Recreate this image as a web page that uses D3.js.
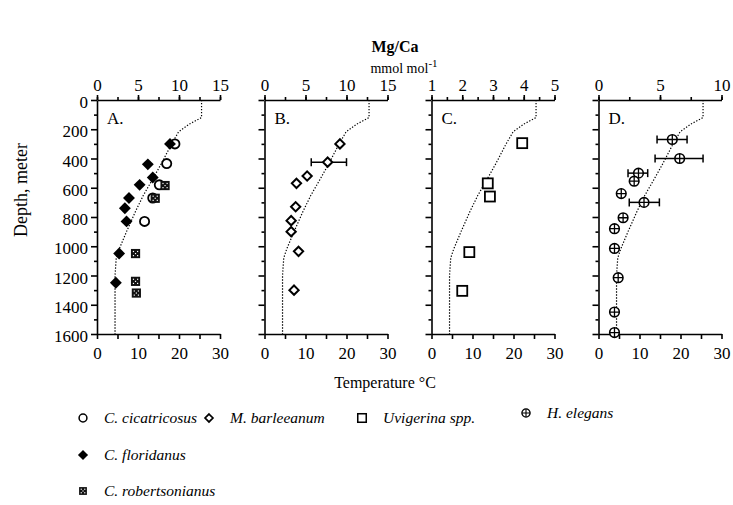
<!DOCTYPE html>
<html>
<head>
<meta charset="utf-8">
<script src="https://cdn.jsdelivr.net/npm/d3@7"></script>
<style>
  body { margin: 0; background: #fff; }
  svg, svg text { font-family: "Liberation Serif", "Times New Roman", "DejaVu Serif", serif; }
</style>
</head>
<body>
<svg width="733" height="505"></svg>
<script>

// temperature profile (dotted line), same in every panel
const profileDepth = [0, 120, 165, 218, 300, 435, 540, 652, 767, 900, 1020, 1080, 1200, 1600];
const profileTemp = [25.5, 25.5, 22.5, 19.9, 18.2, 15.7, 13.6, 11.3, 9.3, 7.2, 5.4, 4.7, 4.4, 4.4];

// [Mg/Ca, depth]
const cicatricosus = [[9.5, 300], [8.5, 435], [7.6, 580], [6.8, 670], [5.8, 830]];
const floridanus = [[8.9, 300], [6.2, 440], [6.8, 530], [5.2, 580], [3.9, 670], [3.4, 740], [3.6, 830], [2.7, 1050], [2.3, 1250]];
const robertsonianus = [[8.3, 585], [7.1, 672], [4.7, 1050], [4.7, 1240], [4.8, 1320]];
const barleeanum = [[9.2, 300], [7.7, 425], [5.2, 520], [3.9, 570], [3.8, 730], [3.25, 825], [3.25, 900], [4.15, 1035], [3.6, 1300]];
const uvigerina = [[3.95, 295], [2.83, 570], [2.9, 660], [2.23, 1040], [2.0, 1305]];
const elegans = [[6.0, 270], [6.6, 400], [3.25, 500], [2.9, 555], [1.85, 640], [3.7, 700], [2.0, 805], [1.3, 880], [1.3, 1015], [1.6, 1215], [1.3, 1450], [1.3, 1590]];

// error bars [Mg/Ca low, Mg/Ca high, depth]
const barleeanumErr = [[5.7, 10.0, 425]];
const elegansErr = [[4.76, 7.2, 270], [4.6, 8.5, 400], [2.4, 4.0, 500], [2.5, 4.95, 700]];

const depthTicks = [0, 200, 400, 600, 800, 1000, 1200, 1400, 1600];
const tempTicks = [0, 10, 20, 30];

const svg = d3.select('svg');
const yTop = 100, yBottom = 334, panelW = 123;
const serif = '"Liberation Serif", "Times New Roman", serif';

const y = d3.scaleLinear().domain([0, 1600]).range([yTop, yBottom]);

const panels = [
    {label: 'A.', x0: 97, mg: [0, 15], ticks: [0, 5, 10, 15], minor: 2.5, left: true,
        sets: [['circle', cicatricosus], ['crossed', robertsonianus], ['filledDiamond', floridanus]], err: []},
    {label: 'B.', x0: 264.5, mg: [0, 15], ticks: [0, 5, 10, 15], minor: 2.5,
        sets: [['diamond', barleeanum]], err: barleeanumErr},
    {label: 'C.', x0: 431.5, mg: [1, 5], ticks: [1, 2, 3, 4, 5], minor: 0.5,
        sets: [['square', uvigerina]], err: []},
    {label: 'D.', x0: 598.5, mg: [0, 10], ticks: [0, 5, 10], minor: 2.5,
        sets: [['plus', elegans]], err: elegansErr}
];

function drawMarker(sel, type, s) {
    if (type === 'circle') {
        sel.append('circle').attr('r', 4.6 * s).attr('fill', '#fff').attr('stroke', '#000').attr('stroke-width', 1.8 * s);
    } else if (type === 'filledDiamond') {
        sel.append('path').attr('d', d3.symbol(d3.symbolDiamond2, 90 * s * s)).attr('fill', '#000');
    } else if (type === 'diamond') {
        sel.append('path').attr('d', d3.symbol(d3.symbolDiamond2, 55 * s * s)).attr('fill', '#fff')
            .attr('stroke', '#000').attr('stroke-width', 2 * s);
    } else if (type === 'square') {
        sel.append('rect').attr('x', -5 * s).attr('y', -5 * s).attr('width', 10 * s).attr('height', 10 * s)
            .attr('fill', '#fff').attr('stroke', '#000').attr('stroke-width', 1.8 * s);
    } else if (type === 'crossed') {
        const h = 4.6 * s;
        sel.append('rect').attr('x', -h).attr('y', -h).attr('width', 2 * h).attr('height', 2 * h).attr('fill', '#111');
        [[-1, -1], [1, -1], [-1, 1], [1, 1], [0, 0]].forEach(p => {
            sel.append('rect').attr('x', p[0] * h * 0.45 - 0.6).attr('y', p[1] * h * 0.45 - 0.6)
                .attr('width', 1.2).attr('height', 1.2).attr('fill', '#fff');
        });
    } else if (type === 'plus') {
        const r = 4.8 * s;
        sel.append('circle').attr('r', r).attr('fill', '#fff').attr('stroke', '#000').attr('stroke-width', 1.6 * s);
        sel.append('path').attr('d', `M${-r},0H${r}M0,${-r}V${r}`).attr('stroke', '#000').attr('stroke-width', 1.3 * s);
    }
}

panels.forEach(p => {
    const g = svg.append('g');
    const xm = d3.scaleLinear().domain(p.mg).range([p.x0, p.x0 + panelW]);
    const xt = d3.scaleLinear().domain([0, 30]).range([p.x0, p.x0 + panelW]);

    // top axis (Mg/Ca)
    g.append('g').attr('transform', `translate(0,${yTop})`)
        .call(d3.axisTop(xm).tickValues(d3.range(p.mg[0], p.mg[1] + 0.01, p.minor)).tickSize(3).tickFormat(''))
        .call(a => a.select('.domain').remove());
    g.append('g').attr('transform', `translate(0,${yTop})`)
        .call(d3.axisTop(xm).tickValues(p.ticks).tickSize(5).tickPadding(4).tickSizeOuter(0).tickFormat(d3.format('d')))
        .call(a => a.selectAll('text').attr('font-size', 17).attr('font-family', serif));

    // bottom axis (temperature)
    g.append('g').attr('transform', `translate(0,${yBottom})`)
        .call(d3.axisBottom(xt).tickValues(d3.range(0, 31, 5)).tickSize(5).tickSizeOuter(0).tickFormat(''));
    g.append('g').attr('transform', `translate(0,${yBottom})`)
        .call(d3.axisBottom(xt).tickValues(tempTicks).tickSize(0).tickPadding(13).tickFormat(d3.format('d')))
        .call(a => a.select('.domain').remove())
        .call(a => a.selectAll('text').attr('font-size', 17).attr('font-family', serif));

    // left axis (depth)
    g.append('g').attr('transform', `translate(${p.x0},0)`)
        .call(d3.axisLeft(y).tickValues(d3.range(100, 1600, 200)).tickSize(3).tickFormat(''))
        .call(a => a.select('.domain').remove());
    g.append('g').attr('transform', `translate(${p.x0},0)`)
        .call(d3.axisLeft(y).tickValues(depthTicks).tickSize(6).tickSizeOuter(0).tickPadding(3)
            .tickFormat(p.left ? d3.format('d') : ''))
        .call(a => a.selectAll('text').attr('font-size', 17).attr('font-family', serif).attr('dy', '0.45em'));

    g.selectAll('.domain, .tick line').attr('stroke', '#000').attr('stroke-width', 1.6);

    // panel letter
    g.append('text').attr('x', p.x0 + 10).attr('y', yTop + 24).attr('font-size', 17)
        .attr('font-family', serif).text(p.label);

    // temperature profile
    g.append('path')
        .datum(profileDepth.map((d, i) => [profileTemp[i], d]))
        .attr('d', d3.line().x(d => xt(d[0])).y(d => y(d[1])))
        .attr('fill', 'none').attr('stroke', '#000').attr('stroke-width', 1.2)
        .attr('stroke-dasharray', '1.3,1.7');

    // error bars
    p.err.forEach(e => {
        const eg = g.append('g').attr('stroke', '#000').attr('stroke-width', 1.5);
        eg.append('line').attr('x1', xm(e[0])).attr('x2', xm(e[1])).attr('y1', y(e[2])).attr('y2', y(e[2]));
        [e[0], e[1]].forEach(v => eg.append('line').attr('x1', xm(v)).attr('x2', xm(v))
            .attr('y1', y(e[2]) - 4).attr('y2', y(e[2]) + 4));
    });

    // points
    p.sets.forEach(([type, data]) => {
        data.forEach(d => {
            const m = g.append('g').attr('transform', `translate(${xm(d[0])},${y(d[1])})`);
            drawMarker(m, type, 1);
        });
    });
});

// titles
svg.append('text').attr('x', 395).attr('y', 52).attr('text-anchor', 'middle').attr('font-family', serif)
    .attr('font-size', 16).attr('font-weight', 'bold').text('Mg/Ca');
const unit = svg.append('text').attr('x', 404).attr('y', 73).attr('text-anchor', 'middle')
    .attr('font-family', serif).attr('font-size', 14);
unit.append('tspan').text('mmol mol');
unit.append('tspan').attr('dy', -6).attr('font-size', 11).text('-1');

svg.append('text').attr('transform', 'translate(27,190) rotate(-90)').attr('text-anchor', 'middle')
    .attr('font-family', serif).attr('font-size', 18).text('Depth, meter');
svg.append('text').attr('x', 385).attr('y', 388).attr('text-anchor', 'middle')
    .attr('font-family', serif).attr('font-size', 16).text('Temperature °C');

// legend
const legendNames = ['C. cicatricosus', 'M. barleeanum', 'Uvigerina spp.', 'H. elegans', 'C. floridanus', 'C. robertsonianus'];
const legendTypes = ['circle', 'diamond', 'square', 'plus', 'filledDiamond', 'crossed'];
const legendX = [83, 209, 362, 526, 83, 83];
const legendY = [418, 418, 418, 413, 455, 491];

legendNames.forEach((name, i) => {
    const lg = svg.append('g').attr('transform', `translate(${legendX[i]},${legendY[i]})`);
    drawMarker(lg, legendTypes[i], 0.85);
    lg.append('text').attr('x', 21).attr('dy', '0.35em').attr('font-size', 15.5)
        .attr('font-family', serif).attr('font-style', 'italic').text(name);
});

</script>
</body>
</html>
